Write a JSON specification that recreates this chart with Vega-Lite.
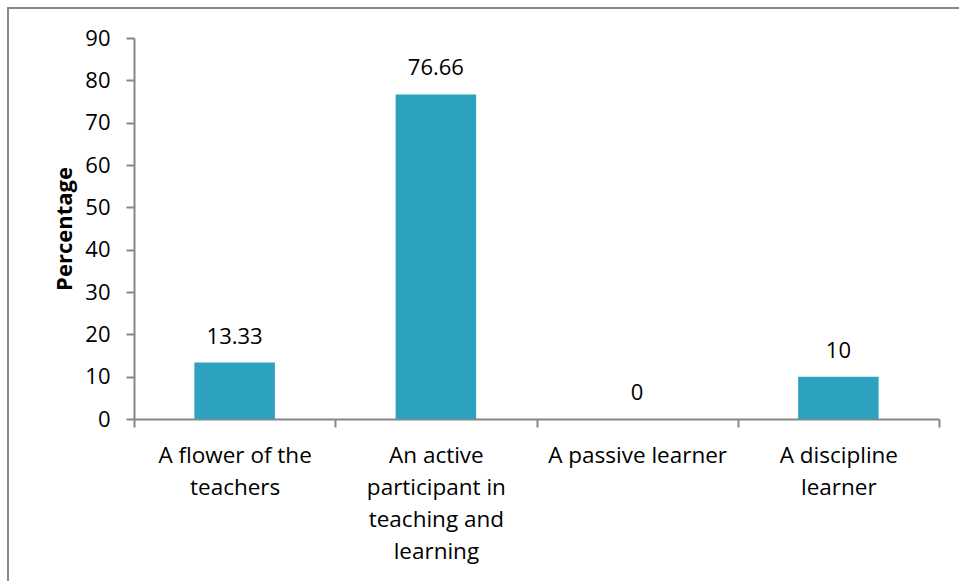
{
  "$schema": "https://vega.github.io/schema/vega-lite/v6.json",
  "width": 960,
  "height": 580,
  "autosize": {"type": "none"},
  "padding": {"left": 8, "top": 8, "right": 0, "bottom": 0},
  "background": "white",
  "config": {
    "view": {"stroke": "#898989", "strokeWidth": 2},
    "font": "Open Sans"
  },
  "data": {
    "values": [
      {"category": "A flower of the teachers", "percentage": 13.33},
      {"category": "An active participant in teaching and learning", "percentage": 76.66},
      {"category": "A passive learner", "percentage": 0},
      {"category": "A discipline learner", "percentage": 10}
    ]
  },
  "encoding": {
    "x": {
      "field": "category",
      "type": "nominal",
      "sort": null,
      "scale": {"range": [126, 931], "paddingInner": 0, "paddingOuter": 0},
      "axis": {
        "orient": "bottom",
        "offset": -169,
        "title": null,
        "labelAngle": 0,
        "tickBand": "extent",
        "tickSize": 8,
        "tickColor": "#868686",
        "tickWidth": 2,
        "domainColor": "#868686",
        "domainWidth": 2,
        "labelColor": "black",
        "labelFontSize": 22.5,
        "labelLineHeight": 32,
        "labelPadding": 17,
        "labelLimit": 400,
        "labelExpr": "datum.value == 'A flower of the teachers' ? ['A flower of the','teachers'] : datum.value == 'An active participant in teaching and learning' ? ['An active','participant in','teaching and','learning'] : datum.value == 'A discipline learner' ? ['A discipline','learner'] : datum.value"
      }
    },
    "y": {
      "field": "percentage",
      "type": "quantitative",
      "scale": {"domain": [0, 90], "range": [411, 30], "nice": false, "zero": true},
      "axis": {
        "title": "Percentage",
        "titleFontSize": 22,
        "titleFontWeight": "bold",
        "titleColor": "black",
        "titlePadding": 8,
        "offset": -126,
        "values": [0, 10, 20, 30, 40, 50, 60, 70, 80, 90],
        "grid": false,
        "tickSize": 8,
        "tickColor": "#868686",
        "tickWidth": 2,
        "domainColor": "#868686",
        "domainWidth": 2,
        "labelColor": "black",
        "labelFontSize": 22,
        "labelPadding": 16
      }
    }
  },
  "layer": [
    {
      "mark": {"type": "bar", "color": "#2CA2BF", "width": {"band": 0.4}}
    },
    {
      "mark": {"type": "text", "fontSize": 22, "baseline": "middle", "dy": -26, "color": "black"},
      "encoding": {"text": {"field": "percentage", "type": "quantitative", "format": "~r"}}
    }
  ]
}
